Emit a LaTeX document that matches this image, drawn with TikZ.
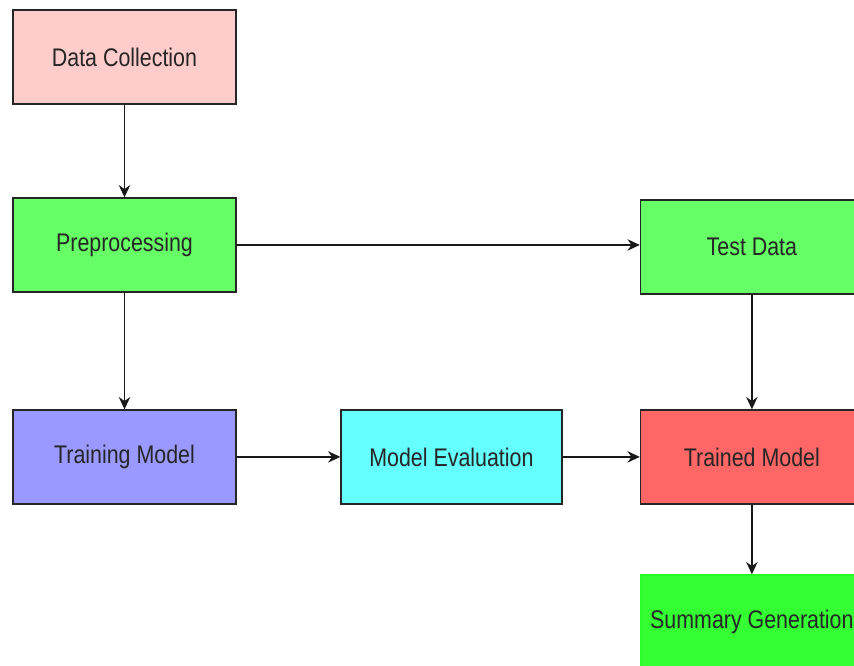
\documentclass[tikz,border=0pt]{standalone}
\usepackage{fontspec}
\setmainfont{Liberation Sans}[FakeStretch=0.84]
\usetikzlibrary{arrows.meta, positioning}

\definecolor{collectpink}{HTML}{FFCCCC}
\definecolor{prepgreen}{HTML}{66FF66}
\definecolor{trainblue}{HTML}{9999FF}
\definecolor{evalcyan}{HTML}{66FFFF}
\definecolor{modelred}{HTML}{FF6666}
\definecolor{summgreen}{HTML}{33FF33}

\tikzset{
    block/.style={rectangle, draw=black!85, line width=0.7pt,
        minimum width=4.46cm, minimum height=1.88cm, inner sep=2pt,
        text=black!85, font=\fontsize{14.5}{17}\selectfont},
    flow/.style={->, line width=0.85pt, black!90}
}

\begin{document}
\begin{tikzpicture}[x=0.02cm,y=-0.02cm,node distance=3.76cm,on grid,auto,
        >={Stealth[length=7pt,width=6.5pt]}]
        \useasboundingbox (0,0) rectangle (854,665);

        \node[block, fill=collectpink]   (collect)  at (124.5,57)            {Data Collection};
        \node[block, fill=prepgreen]     (prep)     [below=of collect]       {Preprocessing};
        \node[block, fill=trainblue]     (train)    [below=4.24cm of prep]   {Training Model};
        \node[block, fill=evalcyan, minimum width=4.42cm]
                                         (eval)     [right=6.54cm of train]  {Model Evaluation};
        \node[block, fill=modelred]      (trained)  [right=6.01cm of eval]   {Trained Model};
        \node[block, fill=prepgreen]     (test)     [above=4.2cm of trained] {Test Data};
        \node[block, fill=summgreen, draw=summgreen!70!green]
                                         (summary)  [below=3.3cm of trained] {Summary Generation};

        \path[flow]   (collect) edge (prep)
        (prep) edge (train)
        (prep.east) edge (prep.east -| test.west)
        (train) edge (eval)
        (eval) edge (trained)
        (test) edge (trained)
        (trained) edge (summary)
        ;
    \end{tikzpicture}
\end{document}
